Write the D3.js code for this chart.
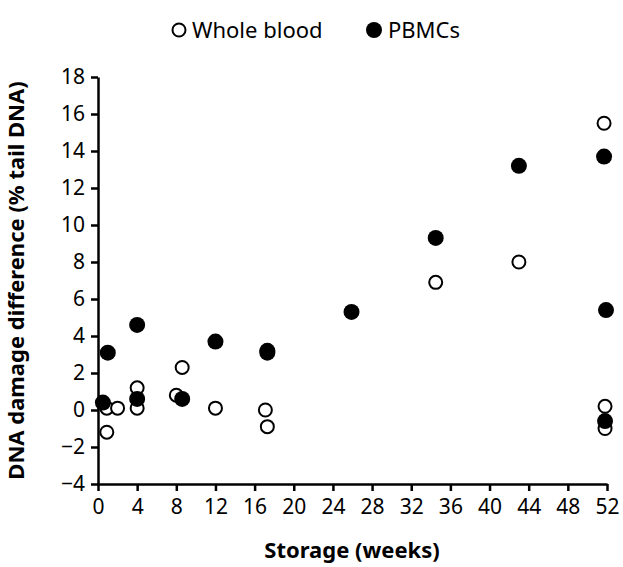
<!DOCTYPE html>
<html><head><meta charset="utf-8">
<script src="https://cdn.jsdelivr.net/npm/d3@7"></script>
<style>body{margin:0;background:#fff}text{font-family:"Noto Sans",sans-serif}</style>
</head><body>
<svg id="chart" width="623" height="567"></svg>
<script>
const wholeX = [0.9, 2, 0.9, 4, 4, 8, 8.6, 12, 17.1, 17.3, 34.5, 43, 51.7, 51.8, 51.8];
const wholeY = [0.1, 0.1, -1.2, 1.2, 0.1, 0.8, 2.3, 0.1, 0.0, -0.9, 6.9, 8.0, 15.5, 0.2, -1.0];
const pbmcX = [0.5, 1, 4, 4, 8.6, 12, 17.3, 17.3, 25.9, 34.5, 43, 51.7, 51.9, 51.8];
const pbmcY = [0.4, 3.1, 4.6, 0.6, 0.6, 3.7, 3.1, 3.2, 5.3, 9.3, 13.2, 13.7, 5.4, -0.6];
const xTicks = d3.range(0, 53, 4);
const yTicks = d3.range(-4, 19, 2);

const svg = d3.select("#chart");
const x = d3.scaleLinear().domain([0, 52]).range([98, 607]);
const y = d3.scaleLinear().domain([-4, 18]).range([484, 77]);

// axes
const xa = svg.append("g").attr("transform", `translate(0,${y(-4)})`)
    .call(d3.axisBottom(x).tickValues(xTicks).tickSize(7).tickSizeOuter(0));
const ya = svg.append("g").attr("transform", `translate(${x(0)},0)`)
    .call(d3.axisLeft(y).tickValues(yTicks).tickSize(7).tickSizeOuter(0));
[xa, ya].forEach(a => {
    a.selectAll("path,line").attr("stroke", "#000").attr("stroke-width", 2.5);
    a.selectAll("text").attr("font-size", 21).attr("fill", "#000");
});
xa.selectAll("text").attr("dy", "1em").attr("y", 9);
ya.selectAll("text").attr("x", -13);

svg.append("text").attr("x", 352).attr("y", 558).attr("text-anchor", "middle")
    .attr("font-size", 22).attr("font-weight", "bold").text("Storage (weeks)");
svg.append("text").attr("transform", `translate(24,${(77 + 484) / 2}) rotate(-90)`)
    .attr("text-anchor", "middle").attr("font-size", 22).attr("font-weight", "bold")
    .text("DNA damage difference (% tail DNA)");

// points
svg.append("g").selectAll("circle").data(wholeX).join("circle")
    .attr("cx", (d, i) => x(d)).attr("cy", (d, i) => y(wholeY[i])).attr("r", 6.5)
    .attr("fill", "#fff").attr("stroke", "#000").attr("stroke-width", 2);
svg.append("g").selectAll("circle").data(pbmcX).join("circle")
    .attr("cx", (d, i) => x(d)).attr("cy", (d, i) => y(pbmcY[i])).attr("r", 8)
    .attr("fill", "#000");

// legend
svg.append("circle").attr("cx", 179).attr("cy", 30).attr("r", 6.5)
    .attr("fill", "#fff").attr("stroke", "#000").attr("stroke-width", 2);
svg.append("text").attr("x", 192).attr("y", 38).attr("font-size", 22).text("Whole blood");
svg.append("circle").attr("cx", 374).attr("cy", 30).attr("r", 8).attr("fill", "#000");
svg.append("text").attr("x", 388).attr("y", 38).attr("font-size", 22).text("PBMCs");
</script>
</body></html>
